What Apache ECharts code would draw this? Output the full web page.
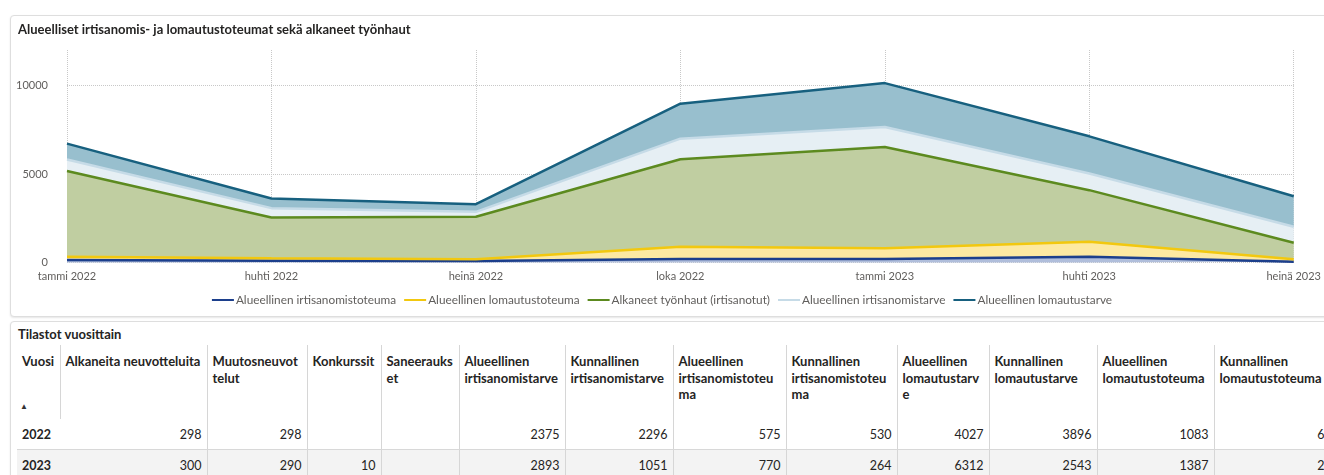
<!DOCTYPE html>
<html>
<head>
<meta charset="utf-8">
<script src="https://cdn.jsdelivr.net/npm/echarts@6/dist/echarts.min.js"></script>
<style>
  body { margin: 0; width: 1324px; height: 475px; overflow: hidden; background: #fff; position: relative; font-family: Lato, 'Open Sans', sans-serif; color: #252423; }
  .card { position: absolute; left: 10px; width: 1340px; border: 1px solid #dedede; border-radius: 4px; box-shadow: 0 1px 2px rgba(0,0,0,.10); background: #fff; }
  #chartCard { top: 15px; height: 300px; }
  #tableCard { top: 321px; height: 200px; }
  #chart { position: absolute; left: 0; top: 0; width: 1324px; height: 316px; }
  #tableTitle { position: absolute; left: 18px; top: 326px; font-size: 13px; font-weight: 700; line-height: 16px; }
  #stats { position: absolute; left: 17px; top: 345px; width: 1327px; border-collapse: collapse; table-layout: fixed; font-size: 12.5px; }
  #stats th { vertical-align: top; text-align: left; font-weight: 700; font-size: 13px; padding: 8px 5px 0 5px; line-height: 16.5px; height: 66px; white-space: nowrap; overflow: visible; }
  #stats th.sep { border-left: 1px solid #d6d6d6; }
  #stats td { height: 30px; padding: 0 5px; text-align: right; white-space: nowrap; }
  #stats td.sep { border-left: 1px solid #d6d6d6; }
  #stats td.year { text-align: left; font-weight: 700; }
  #stats tr.r0 td { border-bottom: 1px solid #d8d8d8; }
  #stats tr.r1 td { background: #f3f3f3; }
  #sortArrow { position: absolute; left: 20px; top: 401px; font-size: 8px; color: #333; }
</style>
</head>
<body>
<div class="card" id="chartCard"></div>
<div class="card" id="tableCard"></div>
<div id="chart"></div>
<div id="tableTitle">Tilastot vuosittain</div>
<table id="stats"></table>
<div id="sortArrow">▲</div>
<script>
// kuukaudet ja sarjat (pinottu alue)
const months = ['tammi 2022', 'huhti 2022', 'heinä 2022', 'loka 2022', 'tammi 2023', 'huhti 2023', 'heinä 2023']
const irtisanomistoteuma = [140, 100, 85, 195, 195, 325, 45]
const lomautustoteuma = [190, 135, 95, 695, 605, 845, 135]
const tyonhaut = [4840, 2310, 2400, 4940, 5725, 2915, 935]
const irtisanomistarve = [650, 525, 280, 1165, 1125, 940, 900]
const lomautustarve = [895, 545, 435, 1970, 2480, 2100, 1730]

// taulukko
const tableHeaders = ['Vuosi', 'Alkaneita neuvotteluita', 'Muutosneuvot\ntelut', 'Konkurssit', 'Saneerauks\net',
  'Alueellinen\nirtisanomistarve', 'Kunnallinen\nirtisanomistarve', 'Alueellinen\nirtisanomistoteu\nma',
  'Kunnallinen\nirtisanomistoteu\nma', 'Alueellinen\nlomautustarv\ne', 'Kunnallinen\nlomautustarve',
  'Alueellinen\nlomautustoteuma', 'Kunnallinen\nlomautustoteuma']
const row2022 = ['2022', 298, 298, '', '', 2375, 2296, 575, 530, 4027, 3896, 1083, 628]
const row2023 = ['2023', 300, 290, 10, '', 2893, 1051, 770, 264, 6312, 2543, 1387, 241]
const colWidths = [43, 147, 100, 74, 78, 106, 108, 113, 111, 92, 108, 117, 130]

function buildTable() {
  const t = document.getElementById('stats')
  let html = '<colgroup>' + colWidths.map(w => `<col style="width:${w}px">`).join('') + '</colgroup>'
  html += '<tr>' + tableHeaders.map((h, i) =>
    `<th class="${i > 0 ? 'sep' : ''}">${h.split('\n').join('<br>')}</th>`).join('') + '</tr>'
  ;[row2022, row2023].forEach((row, r) => {
    html += `<tr class="r${r}">` + row.map((v, i) => {
      const cls = i === 0 ? 'year' : (i > 1 ? 'sep' : '')
      return `<td class="${cls}">${v}</td>`
    }).join('') + '</tr>'
  })
  t.innerHTML = html
}

function lineSeries(name, data, color, fill) {
  return {
    name: name,
    type: 'line',
    stack: 'kaikki',
    data: data,
    symbol: 'none',
    itemStyle: { color: color },
    lineStyle: { color: color, width: 2.5 },
    areaStyle: { color: fill, opacity: 1 }
  }
}

function chartInit(node) {
  const myChart = echarts.init(node)
  const labelColor = '#605e5c'
  myChart.setOption({
    animation: false,
    textStyle: { fontFamily: 'Lato, sans-serif' },
    title: {
      text: 'Alueelliset irtisanomis- ja lomautustoteumat sekä alkaneet työnhaut',
      left: 13, top: 18,
      textStyle: { fontSize: 13, fontWeight: 700, color: '#252423', fontFamily: 'Lato, sans-serif' }
    },
    legend: {
      top: 289, left: 'center',
      icon: 'rect', itemWidth: 22, itemHeight: 2, itemGap: 8,
      textStyle: { fontSize: 11.8, color: labelColor, padding: [0, 0, 0, -3] }
    },
    grid: { left: 67, right: 26, top: 50, bottom: 53.5 },
    xAxis: {
      type: 'category',
      data: months,
      boundaryGap: false,
      axisLine: { show: false },
      axisTick: { show: false },
      axisLabel: { color: labelColor, fontSize: 11, margin: 8 },
      splitLine: { show: true, lineStyle: { type: 'dotted', color: '#c8c8c8', width: 1 } }
    },
    yAxis: {
      type: 'value',
      min: 0, max: 12000, interval: 5000,
      axisLabel: { color: labelColor, fontSize: 11, margin: 19, showMaxLabel: false, formatter: v => String(v) },
      splitLine: { lineStyle: { type: 'dotted', color: ['#c8c8c8', '#c8c8c8', '#c8c8c8', 'rgba(0,0,0,0)'], width: 1 } }
    },
    series: [
      lineSeries('Alueellinen irtisanomistoteuma', irtisanomistoteuma, '#1c3f8c', '#b0bedb'),
      lineSeries('Alueellinen lomautustoteuma', lomautustoteuma, '#f2c80f', '#fde9a2'),
      lineSeries('Alkaneet työnhaut (irtisanotut)', tyonhaut, '#5c8a1f', '#c0cea1'),
      lineSeries('Alueellinen irtisanomistarve', irtisanomistarve, '#c6dbe7', '#e6eff4'),
      lineSeries('Alueellinen lomautustarve', lomautustarve, '#17607f', '#98bfce')
    ]
  })
}

buildTable()
chartInit(document.getElementById('chart'))
</script>
</body>
</html>
